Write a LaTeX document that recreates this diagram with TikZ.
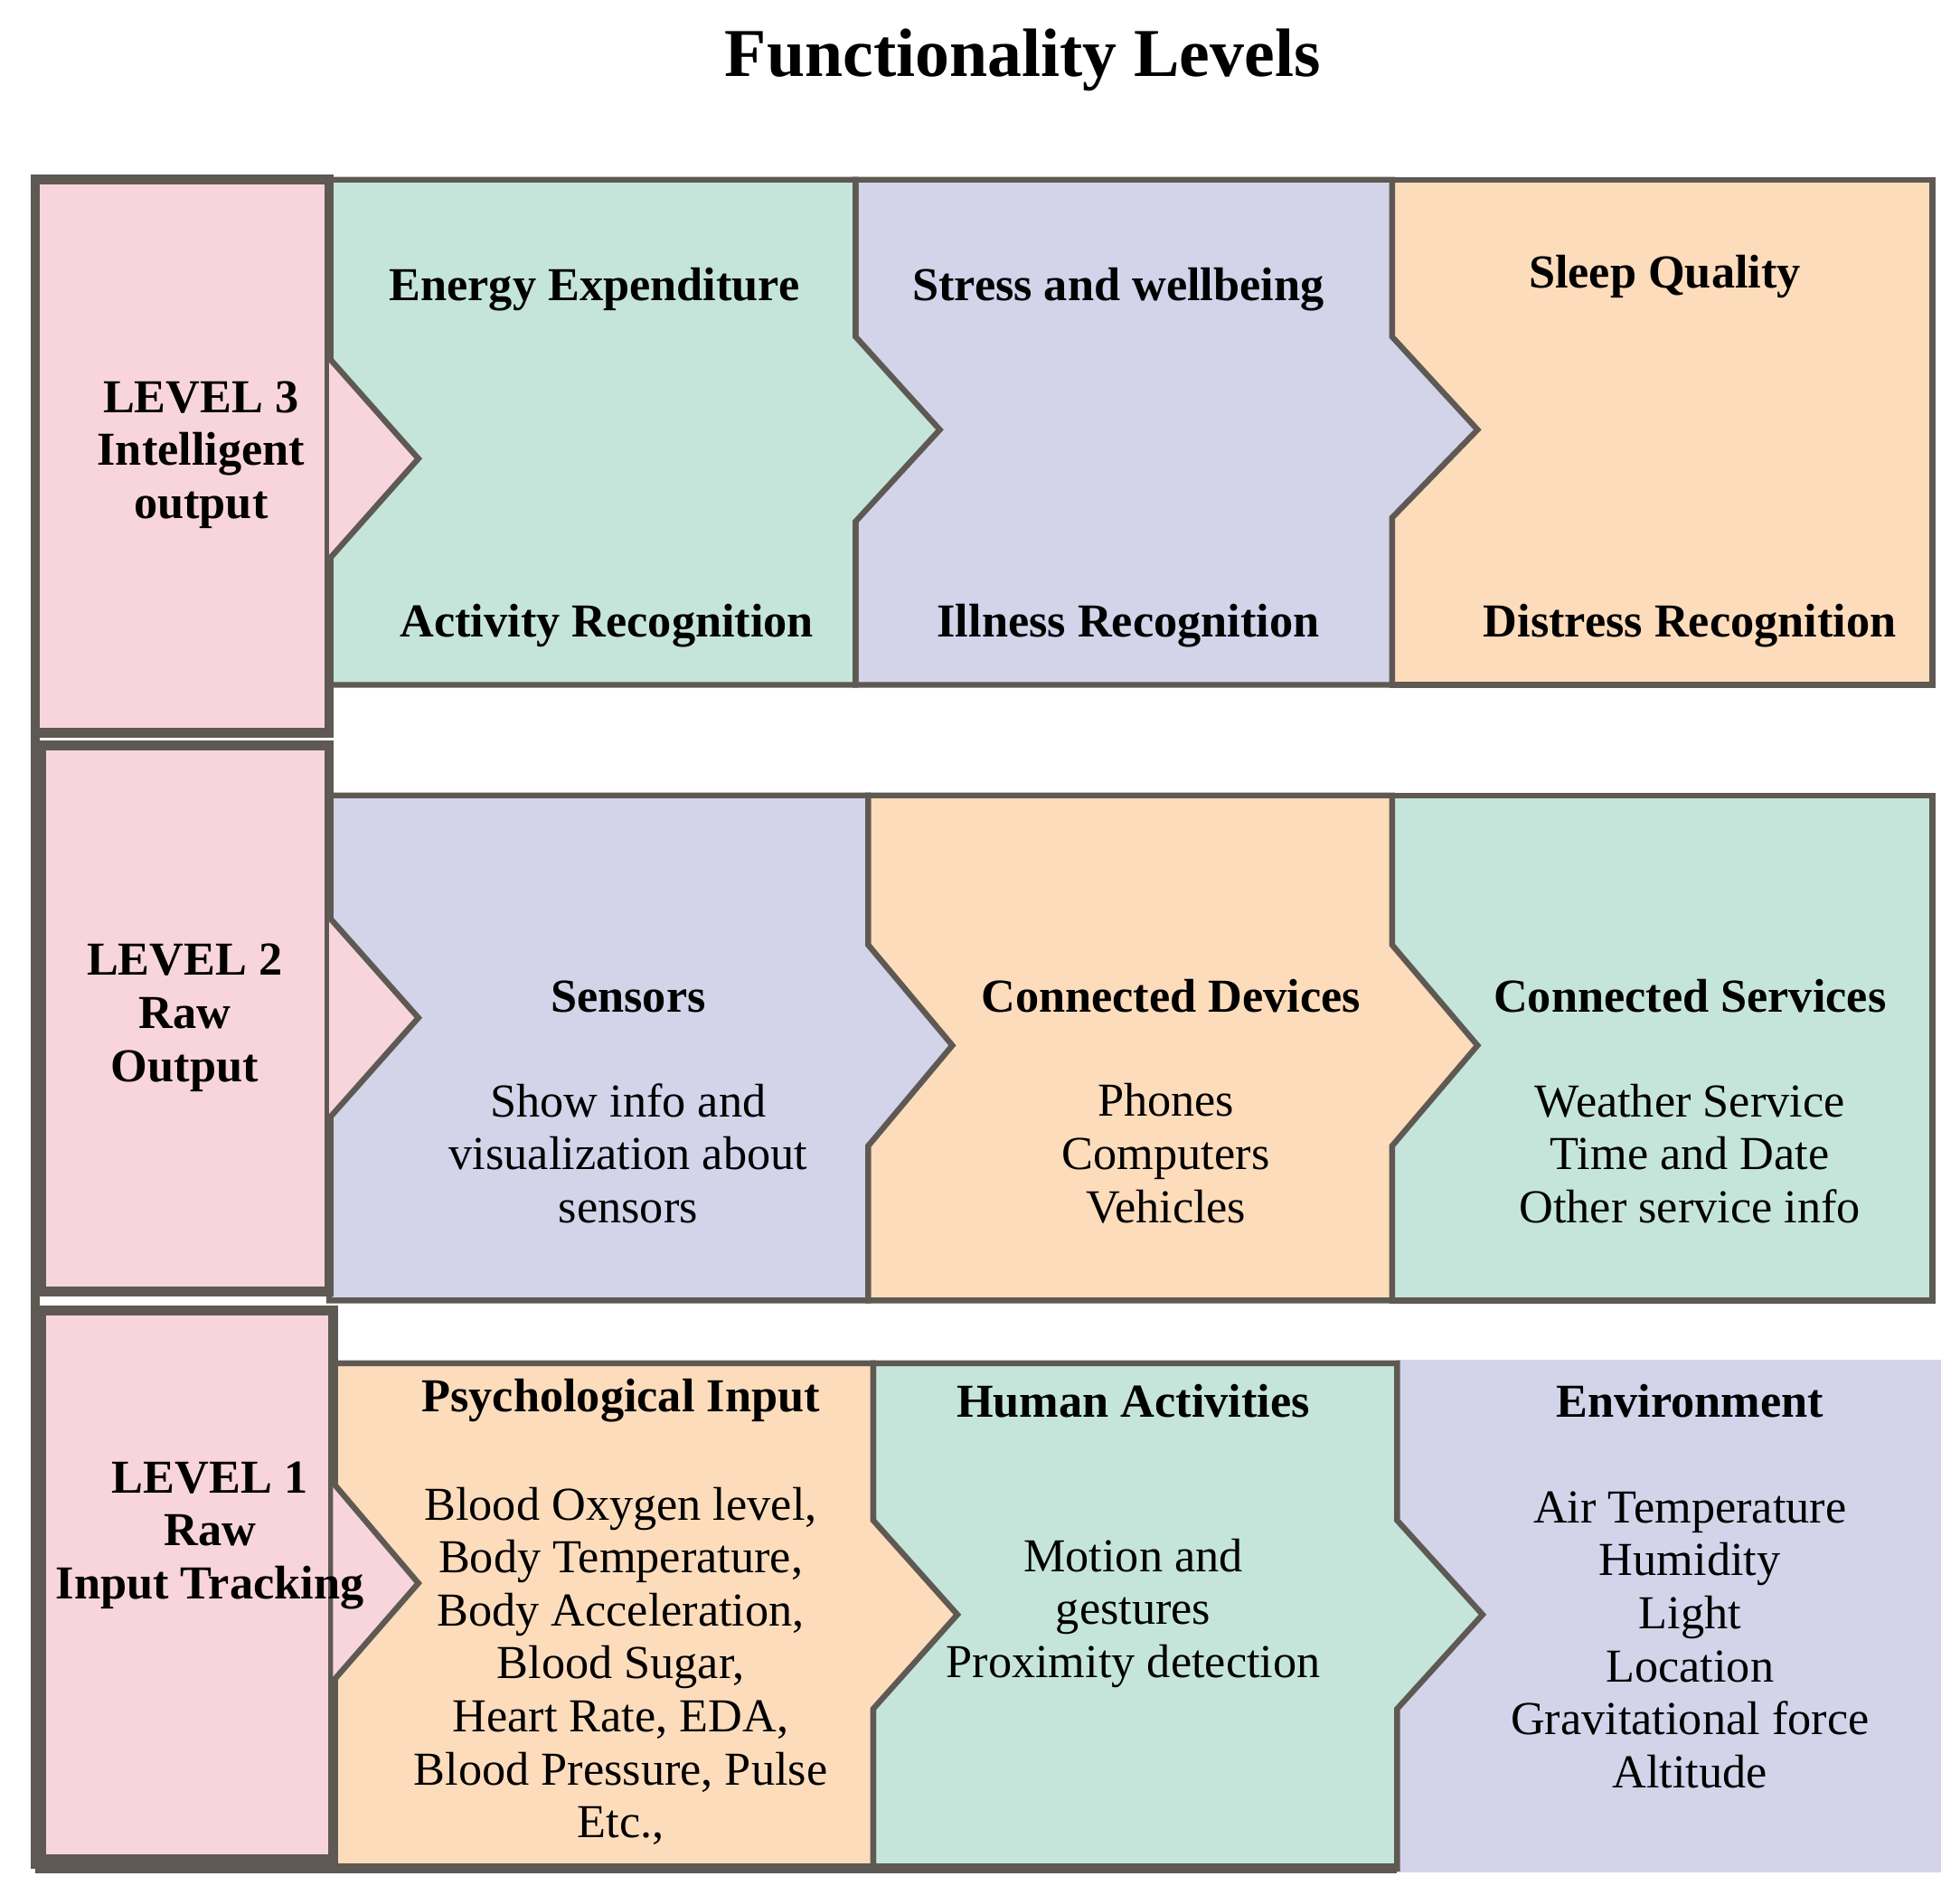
\documentclass[tikz,border=0pt]{standalone}
\usepackage{fontspec}
\setmainfont{Liberation Serif}
\definecolor{pk}{HTML}{F8D5DC}
\definecolor{gr}{HTML}{C5E5DB}
\definecolor{pu}{HTML}{D3D3EA}
\definecolor{or}{HTML}{FDDCBC}
\definecolor{bd}{HTML}{5E5953}
\begin{document}
\begin{tikzpicture}[x=0.01cm,y=-0.01cm,
  box/.style={draw=bd,line width=1.3pt,line join=miter},
  lvl/.style={draw=bd,line width=2.2pt,fill=pk},
  t/.style={font=\fontsize{10.7}{12}\selectfont,align=center,inner sep=0pt},
  b/.style={t,font=\fontsize{10.7}{12}\selectfont\bfseries}]
\useasboundingbox (0,0) rectangle (1560,1508);
\node[font=\fontsize{15.5}{19}\selectfont\bfseries] (title) at (814,48) {Functionality Levels};
% row 3
\path[box,fill=or] (1108,143) rectangle (1538,545);
\path[box,fill=pu] (681,143) -- (1108,143) -- (1108,268) -- (1176,342) -- (1108,412) -- (1108,545) -- (681,545) -- cycle;
\path[box,fill=gr] (262,143) -- (681,143) -- (681,268) -- (748,342) -- (681,415) -- (681,545) -- (262,545) -- cycle;
\path[lvl] (28,143) rectangle (262,583);
\path[fill=pk,draw=bd,line width=1.3pt] (262,285) -- (333,365) -- (262,445);
% row 2
\path[box,fill=gr] (1108,633) rectangle (1538,1035);
\path[box,fill=or] (691,633) -- (1108,633) -- (1108,752) -- (1176,832) -- (1108,912) -- (1108,1035) -- (691,1035) -- cycle;
\path[box,fill=pu] (262,633) -- (691,633) -- (691,752) -- (758,832) -- (691,912) -- (691,1035) -- (262,1035) -- cycle;
\path[lvl] (33,593) rectangle (262,1028);
\path[fill=pk,draw=bd,line width=1.3pt] (262,730) -- (333,810) -- (262,890);
% row 1
\path[fill=pu] (1112,1082) rectangle (1545,1490);
\path[box,fill=gr] (695,1085) -- (1112,1085) -- (1112,1210) -- (1180,1285) -- (1112,1360) -- (1112,1487) -- (695,1487) -- cycle;
\path[box,fill=or] (265,1085) -- (695,1085) -- (695,1210) -- (762,1285) -- (695,1360) -- (695,1487) -- (265,1487) -- cycle;
\path[lvl] (33,1043) rectangle (265,1480);
\path[fill=pk,draw=bd,line width=1.3pt] (265,1180) -- (333,1260) -- (265,1338);
\draw[bd,line width=2.2pt] (28,1487) -- (1112,1487);
\draw[bd,line width=2.2pt] (28,143) -- (28,1487);
% level labels
\node[b] (l3) at (160,362) {LEVEL 3\\Intelligent\\output};
\node[b] (l2) at (147,810) {LEVEL 2\\Raw\\Output};
\node[b] (l1) at (167,1222) {LEVEL 1\\Raw\\Input Tracking};
% row 3 texts
\node[b] (a1) at (473,230) {Energy Expenditure};
\node[b] (a2) at (483,498) {Activity Recognition};
\node[b] (a3) at (890,230) {Stress and wellbeing};
\node[b] (a4) at (898,498) {Illness Recognition};
\node[b] (a5) at (1325,220) {Sleep Quality};
\node[b] (a6) at (1345,498) {Distress Recognition};
% row 2 texts
\node[b] (s1) at (500,793) {Sensors};
\node[t] (s2) at (500,918) {Show info and\\visualization about\\sensors};
\node[b] (d1) at (932,793) {Connected Devices};
\node[t] (d2) at (928,918) {Phones\\Computers\\Vehicles};
\node[b] (c1) at (1345,793) {Connected Services};
\node[t] (c2) at (1345,918) {Weather Service\\Time and Date\\Other service info};
% row 1 texts
\node[b] (p1) at (494,1115) {Psychological Input};
\node[t] (p2) at (494,1326) {Blood Oxygen level,\\Body Temperature,\\Body Acceleration,\\Blood Sugar,\\Heart Rate, EDA,\\Blood Pressure, Pulse\\Etc.,};
\node[b] (h1) at (902,1115) {Human Activities};
\node[t] (h2) at (902,1284) {Motion and\\gestures\\Proximity detection};
\node[b] (e1) at (1345,1115) {Environment};
\node[t] (e2) at (1345,1305) {Air Temperature\\Humidity\\Light\\Location\\Gravitational force\\Altitude};
\end{tikzpicture}
\end{document}
